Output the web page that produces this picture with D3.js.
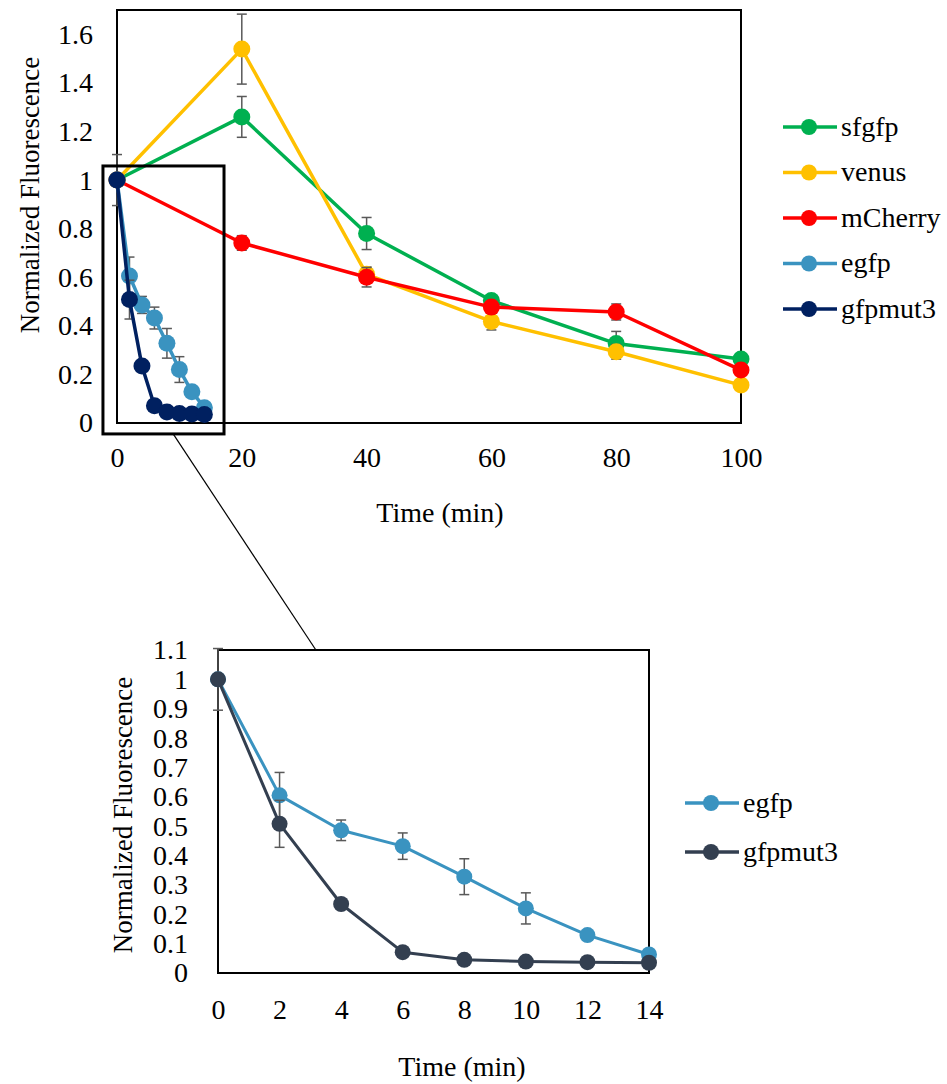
<!DOCTYPE html>
<html>
<head>
<meta charset="utf-8">
<script src="https://cdn.jsdelivr.net/npm/d3@7"></script>
<style>
  html, body { margin: 0; padding: 0; background: #fff; }
  svg { display: block; }
  text { font-family: "Liberation Serif", "Times New Roman", serif; fill: #000; }
</style>
</head>
<body>
<svg id="chart" width="947" height="1084"></svg>
<script>
// Fluorescence decay after translation shutoff, normalized to t = 0
const timeLong = [0, 20, 40, 60, 80, 100];
const sfgfp = [1.0, 1.26, 0.78, 0.504, 0.327, 0.263];
const sfgfpErr = [0, 0.084, 0.066, 0.02, 0.05, 0.02];
const venus = [1.0, 1.539, 0.612, 0.418, 0.293, 0.156];
const venusErr = [0, 0.144, 0.03, 0.035, 0.03, 0.015];
const mCherry = [1.0, 0.741, 0.60, 0.477, 0.457, 0.218];
const mCherryErr = [0, 0.03, 0.04, 0.02, 0.033, 0.015];

const timeShort = [0, 2, 4, 6, 8, 10, 12, 14];
const egfp = [1.0, 0.605, 0.486, 0.432, 0.328, 0.22, 0.129, 0.063];
const egfpErr = [0.105, 0.078, 0.035, 0.045, 0.061, 0.053, 0.012, 0.01];
const gfpmut3 = [1.0, 0.508, 0.235, 0.071, 0.045, 0.039, 0.037, 0.035];
const gfpmut3Err = [0, 0.08, 0.01, 0.01, 0.005, 0.005, 0.005, 0.005];

const yTicksTop = [0, 0.2, 0.4, 0.6, 0.8, 1, 1.2, 1.4, 1.6];
const xTicksTop = [0, 20, 40, 60, 80, 100];
const yTicksBottom = [0, 0.1, 0.2, 0.3, 0.4, 0.5, 0.6, 0.7, 0.8, 0.9, 1, 1.1];
const xTicksBottom = [0, 2, 4, 6, 8, 10, 12, 14];

const seriesTop = [
  { name: "sfgfp", color: "#00B050", x: timeLong, y: sfgfp, err: sfgfpErr },
  { name: "venus", color: "#FFC000", x: timeLong, y: venus, err: venusErr },
  { name: "mCherry", color: "#FF0000", x: timeLong, y: mCherry, err: mCherryErr },
  { name: "egfp", color: "#3A93C0", x: timeShort, y: egfp, err: egfpErr },
  { name: "gfpmut3", color: "#002060", x: timeShort, y: gfpmut3, err: gfpmut3Err }
];
const seriesBottom = [
  { name: "egfp", color: "#3A93C0", x: timeShort, y: egfp, err: egfpErr },
  { name: "gfpmut3", color: "#333F50", x: timeShort, y: gfpmut3, err: gfpmut3Err }
];

const svg = d3.select("#chart");
const fmt = d => String(+d.toFixed(1));
const FONT = 28;
const TITLE_FONT = 27;

function drawPanel(cfg) {
  const g = svg.append("g");
  const x = d3.scaleLinear().domain(cfg.xDomain).range([cfg.left, cfg.left + cfg.width]);
  const y = d3.scaleLinear().domain(cfg.yDomain).range([cfg.top + cfg.height, cfg.top]);

  // axes: labels only, Excel-style
  const ax = g.append("g")
    .attr("transform", `translate(0,${cfg.top + cfg.height})`)
    .call(d3.axisBottom(x).tickValues(cfg.xTicks).tickFormat(fmt).tickSize(0).tickPadding(cfg.xPad));
  const ay = g.append("g")
    .attr("transform", `translate(${cfg.left},0)`)
    .call(d3.axisLeft(y).tickValues(cfg.yTicks).tickFormat(fmt).tickSize(0).tickPadding(cfg.yPad));
  [ax, ay].forEach(a => {
    a.select(".domain").remove();
    a.selectAll("text").style("font-family", '"Liberation Serif", serif').style("font-size", FONT + "px").attr("fill", "#000");
  });

  // plot frame
  g.append("rect")
    .attr("x", cfg.left).attr("y", cfg.top)
    .attr("width", cfg.width).attr("height", cfg.height)
    .attr("fill", "none").attr("stroke", "#000").attr("stroke-width", 2);

  const line = d3.line().x(d => x(d[0])).y(d => y(d[1]));

  cfg.series.forEach(s => {
    const pts = s.x.map((t, i) => [t, s.y[i], s.err[i]]);
    const sg = g.append("g");
    // error bars
    const eb = sg.selectAll(".eb").data(pts.filter(p => p[2] > 0)).enter().append("g")
      .attr("stroke", "#595959").attr("stroke-width", 1.5);
    eb.append("line")
      .attr("x1", d => x(d[0])).attr("x2", d => x(d[0]))
      .attr("y1", d => y(d[1] - d[2])).attr("y2", d => y(d[1] + d[2]));
    [-1, 1].forEach(sgn => {
      eb.append("line")
        .attr("x1", d => x(d[0]) - 5).attr("x2", d => x(d[0]) + 5)
        .attr("y1", d => y(d[1] + sgn * d[2])).attr("y2", d => y(d[1] + sgn * d[2]));
    });
    sg.append("path").datum(pts).attr("d", line)
      .attr("fill", "none").attr("stroke", s.color).attr("stroke-width", cfg.lineW)
      .attr("stroke-linejoin", "round");
    sg.selectAll("circle").data(pts).enter().append("circle")
      .attr("cx", d => x(d[0])).attr("cy", d => y(d[1])).attr("r", cfg.r)
      .attr("fill", s.color);
  });

  // legend
  const lg = g.append("g");
  cfg.series.forEach((s, i) => {
    const ly = cfg.legend.y + i * cfg.legend.dy;
    lg.append("line").attr("x1", cfg.legend.x).attr("x2", cfg.legend.x + 54)
      .attr("y1", ly).attr("y2", ly).attr("stroke", s.color).attr("stroke-width", 3.5);
    lg.append("circle").attr("cx", cfg.legend.x + 26).attr("cy", ly).attr("r", 8).attr("fill", s.color);
    lg.append("text").attr("x", cfg.legend.x + 58).attr("y", ly).attr("dy", "0.32em")
      .style("font-size", FONT + "px").text(s.name);
  });

  // axis titles
  g.append("text")
    .attr("transform", `translate(${cfg.yTitle[0]},${cfg.yTitle[1]}) rotate(-90)`)
    .attr("text-anchor", "middle").attr("dy", "0.35em")
    .style("font-size", TITLE_FONT + "px").text("Normalized Fluorescence");
  g.append("text")
    .attr("x", cfg.xTitle[0]).attr("y", cfg.xTitle[1]).attr("dy", "0.35em")
    .attr("text-anchor", "middle")
    .style("font-size", FONT + "px").text("Time (min)");

  return { x, y, g };
}

const overview = drawPanel({
  left: 117, top: 10, width: 624, height: 413,
  xDomain: [0, 100], yDomain: [0, 1.7],
  xTicks: xTicksTop, yTicks: yTicksTop, xPad: 24, yPad: 24,
  series: seriesTop, r: 8.5, lineW: 3.5,
  legend: { x: 783, y: 127, dy: 45.5 },
  yTitle: [30, 195], xTitle: [440, 512]
});

const detail = drawPanel({
  left: 218, top: 650, width: 431, height: 323,
  xDomain: [0, 14], yDomain: [0, 1.1],
  xTicks: xTicksBottom, yTicks: yTicksBottom, xPad: 26, yPad: 30,
  series: seriesBottom, r: 8, lineW: 3,
  legend: { x: 685, y: 803, dy: 49 },
  yTitle: [123, 815], xTitle: [462, 1066]
});

// highlighted window on the overview that the lower panel enlarges
const win = { x0: -2.25, x1: 17.15, y0: -0.045, y1: 1.058 };
svg.append("rect")
  .attr("x", overview.x(win.x0)).attr("y", overview.y(win.y1))
  .attr("width", overview.x(win.x1) - overview.x(win.x0))
  .attr("height", overview.y(win.y0) - overview.y(win.y1))
  .attr("fill", "none").attr("stroke", "#000").attr("stroke-width", 3);

// leader line from the window down to the enlarged panel
svg.append("line")
  .attr("x1", overview.x(9)).attr("y1", overview.y(win.y0))
  .attr("x2", detail.x(3.18)).attr("y2", detail.y(1.1))
  .attr("stroke", "#000").attr("stroke-width", 1.2);
</script>
</body>
</html>
